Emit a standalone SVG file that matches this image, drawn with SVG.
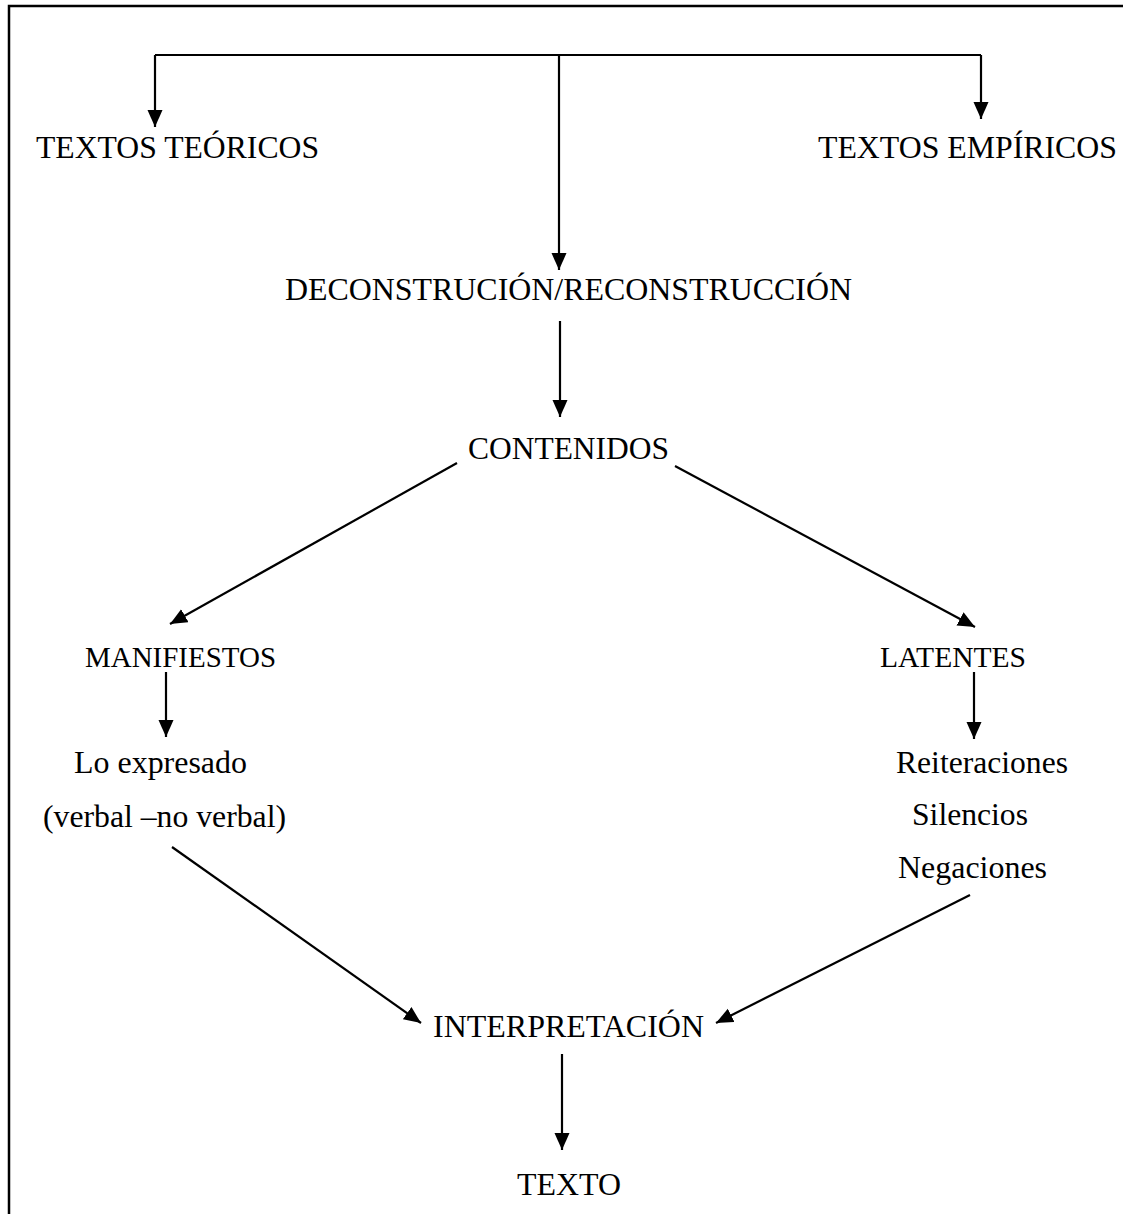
<svg xmlns="http://www.w3.org/2000/svg" width="1123" height="1214" viewBox="0 0 1123 1214">
<defs>
<marker id="ah" markerUnits="userSpaceOnUse" markerWidth="18" markerHeight="16" refX="17" refY="7.5" orient="auto">
<path d="M0,0 L17,7.5 L0,15 z" fill="#000"/>
</marker>
<style>
text{font-family:"Liberation Serif","Times New Roman",serif;fill:#000;}
.t32{font-size:32px;}
.t29{font-size:29px;}
.c line,.c polyline{stroke:#000;stroke-width:2.2;fill:none;}
.a{marker-end:url(#ah);}
.frame{stroke:#000;stroke-width:2.5;fill:none;}
</style>
</defs>
<rect width="1123" height="1214" fill="#fff"/>
<polyline class="frame" points="9,1214 9,6 1123,6"/>
<g id="teoricos"><text class="t32" x="36" y="158" textLength="283" lengthAdjust="spacingAndGlyphs">TEXTOS TEÓRICOS</text></g>
<g id="empiricos"><text class="t32" x="818" y="158" textLength="299" lengthAdjust="spacingAndGlyphs">TEXTOS EMPÍRICOS</text></g>
<g id="decon"><text class="t32" x="285" y="300" textLength="567" lengthAdjust="spacingAndGlyphs">DECONSTRUCIÓN/RECONSTRUCCIÓN</text></g>
<g id="contenidos"><text class="t32" x="468" y="459" textLength="201" lengthAdjust="spacingAndGlyphs">CONTENIDOS</text></g>
<g id="manifiestos"><text class="t29" x="85" y="667" textLength="191" lengthAdjust="spacingAndGlyphs">MANIFIESTOS</text></g>
<g id="latentes"><text class="t29" x="880" y="667" textLength="146" lengthAdjust="spacingAndGlyphs">LATENTES</text></g>
<g id="expresado">
<text class="t32" x="74" y="773" textLength="173" lengthAdjust="spacingAndGlyphs">Lo expresado</text>
<text class="t32" x="43" y="827" textLength="243" lengthAdjust="spacingAndGlyphs">(verbal –no verbal)</text>
</g>
<g id="latentes-lista">
<text class="t32" x="896" y="773" textLength="172" lengthAdjust="spacingAndGlyphs">Reiteraciones</text>
<text class="t32" x="912" y="825" textLength="116" lengthAdjust="spacingAndGlyphs">Silencios</text>
<text class="t32" x="898" y="878" textLength="149" lengthAdjust="spacingAndGlyphs">Negaciones</text>
</g>
<g id="interpretacion"><text class="t32" x="433" y="1037" textLength="271" lengthAdjust="spacingAndGlyphs">INTERPRETACIÓN</text></g>
<g id="texto"><text class="t32" x="517" y="1195" textLength="104" lengthAdjust="spacingAndGlyphs">TEXTO</text></g>
<g id="connectors" class="c">
<line x1="155" y1="55" x2="981" y2="55"/>
<line class="a" x1="155" y1="55" x2="155" y2="127"/>
<line class="a" x1="981" y1="55" x2="981" y2="119"/>
<line class="a" x1="559" y1="55" x2="559" y2="270"/>
<line class="a" x1="560" y1="321" x2="560" y2="417"/>
<line class="a" x1="457" y1="463" x2="170" y2="624"/>
<line class="a" x1="675" y1="466" x2="975" y2="627"/>
<line class="a" x1="166" y1="672" x2="166" y2="737"/>
<line class="a" x1="974" y1="672" x2="974" y2="739"/>
<line class="a" x1="172" y1="847" x2="421" y2="1023"/>
<line class="a" x1="970" y1="895" x2="716" y2="1023"/>
<line class="a" x1="562" y1="1054" x2="562" y2="1150"/>
</g>
</svg>
